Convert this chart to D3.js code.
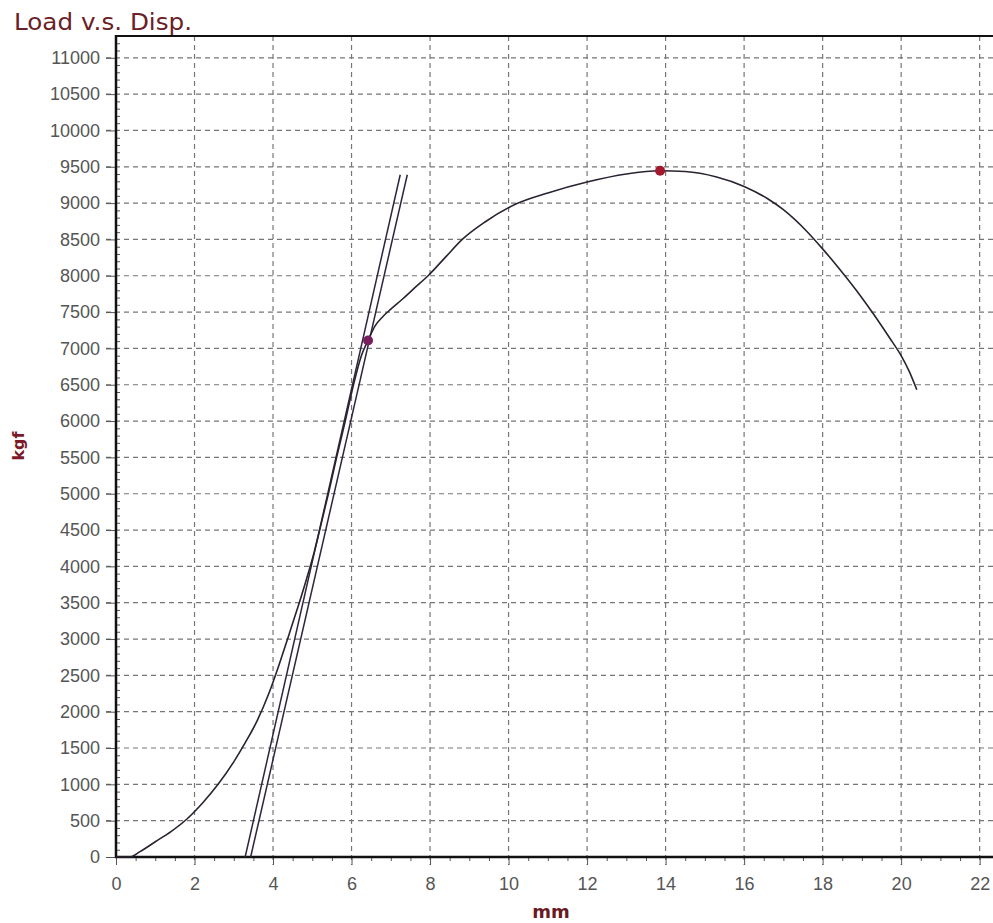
<!DOCTYPE html>
<html>
<head>
<meta charset="utf-8">
<script src="https://cdn.jsdelivr.net/npm/d3@7"></script>
<style>
  html, body { margin: 0; padding: 0; background: #ffffff; }
  svg { display: block; }
</style>
</head>
<body>
<svg id="chart" width="993" height="923"></svg>
<script>
// ---- data ----
const title = "Load v.s. Disp.";
const xLabel = "mm";
const yLabel = "kgf";

const xTicks = [0, 2, 4, 6, 8, 10, 12, 14, 16, 18, 20, 22];
const yTicks = [0, 500, 1000, 1500, 2000, 2500, 3000, 3500, 4000, 4500, 5000, 5500,
                6000, 6500, 7000, 7500, 8000, 8500, 9000, 9500, 10000, 10500, 11000];

// load vs displacement curve
const dispMM = [0, 0.35, 0.6, 1.0, 1.4, 1.8, 2.2, 2.6, 3.0, 3.3, 3.6, 3.9, 4.15, 4.4, 4.64,
                4.85, 5.05, 5.25, 5.41, 5.62, 5.84, 6.05, 6.25, 6.42, 6.6, 6.8, 7.0, 7.3, 7.6,
                7.95, 8.4, 8.82, 9.4, 10.2, 11.0, 12.0, 13.0, 13.86, 14.5, 15.3, 16.0, 16.6,
                17.0, 17.6, 18.0, 18.45, 18.9, 19.3, 19.7, 20.0, 20.2, 20.4];
const loadKgf = [0, 0, 70, 210, 350, 520, 740, 1000, 1310, 1580, 1880, 2260, 2640, 3050, 3450,
                 3820, 4200, 4640, 5000, 5500, 6000, 6500, 6900, 7110, 7310, 7440, 7540, 7680, 7830,
                 8000, 8260, 8500, 8740, 8990, 9140, 9290, 9400, 9445, 9435, 9360, 9230, 9060,
                 8910, 8610, 8370, 8080, 7770, 7470, 7150, 6900, 6690, 6430];

// elastic (tangent) line and offset line
const tangentX = [3.29, 7.24];
const tangentY = [0, 9390];
const offsetX = [3.43, 7.42];
const offsetY = [0, 9390];

// marked points: yield, maximum
const markX = [6.42, 13.86];
const markY = [7110, 9445];
const markColor = ["#7a1f5e", "#a3182c"];

// ---- layout ----
const svg = d3.select("#chart");
const mLeft = 116, mRight = 993, mTop = 36, mBottom = 857;

const x = d3.scaleLinear().domain([0, 22.34]).range([mLeft, mRight]);
const y = d3.scaleLinear().domain([0, 11300]).range([mBottom, mTop]);

const xMinor = d3.range(0, 22.01, 0.5).filter(v => Math.abs(v % 2) > 1e-6);
const yMinor = d3.range(0, 11301, 100).filter(v => v % 500 !== 0);

// gridlines
const grid = svg.append("g");
grid.selectAll("line.h").data(yTicks.filter(v => v > 0)).join("line")
  .attr("x1", x(0) - 10).attr("x2", mRight)
  .attr("y1", d => y(d)).attr("y2", d => y(d))
  .attr("stroke", "#767676").attr("stroke-width", 1.2)
  .attr("stroke-dasharray", "5,4");
grid.selectAll("line.v").data(xTicks.filter(v => v > 0)).join("line")
  .attr("y1", mTop).attr("y2", y(0) + 8)
  .attr("x1", d => x(d)).attr("x2", d => x(d))
  .attr("stroke", "#767676").attr("stroke-width", 1.2)
  .attr("stroke-dasharray", "5,4");

// axes
const fontTicks = "'Liberation Sans', Arial, sans-serif";

const yAxis = svg.append("g").attr("transform", `translate(${mLeft},0)`)
  .call(d3.axisLeft(y).tickValues(yTicks).tickSize(10).tickPadding(6).tickFormat(d3.format("d")));
const yMinorAxis = svg.append("g").attr("transform", `translate(${mLeft},0)`)
  .call(d3.axisLeft(y).tickValues(yMinor).tickSize(-4).tickFormat(""));
const xAxis = svg.append("g").attr("transform", `translate(0,${mBottom})`)
  .call(d3.axisBottom(x).tickValues(xTicks).tickSize(8).tickPadding(12).tickFormat(d3.format("d")));
const xMinorAxis = svg.append("g").attr("transform", `translate(0,${mBottom})`)
  .call(d3.axisBottom(x).tickValues(xMinor).tickSize(4).tickFormat(""));

[yAxis, xAxis, yMinorAxis, xMinorAxis].forEach(g => {
  g.select(".domain").remove();
  g.selectAll(".tick line").attr("stroke", "#555").attr("stroke-width", 1);
  g.selectAll(".tick text").attr("fill", "#555").style("font-family", fontTicks).style("font-size", "18px");
});

// frame
svg.append("line").attr("x1", mLeft).attr("x2", mLeft).attr("y1", mTop - 1).attr("y2", mBottom + 1)
  .attr("stroke", "#111").attr("stroke-width", 2.5);
svg.append("line").attr("x1", mLeft - 1).attr("x2", mRight).attr("y1", mBottom).attr("y2", mBottom)
  .attr("stroke", "#111").attr("stroke-width", 2.5);
svg.append("line").attr("x1", mLeft).attr("x2", mRight).attr("y1", mTop).attr("y2", mTop)
  .attr("stroke", "#111").attr("stroke-width", 2);

// straight lines
const lineGen = d3.line().x(d => x(d[0])).y(d => y(d[1]));
[[tangentX, tangentY], [offsetX, offsetY]].forEach(([xs, ys]) => {
  svg.append("path").datum(xs.map((v, i) => [v, ys[i]]))
    .attr("d", lineGen).attr("fill", "none")
    .attr("stroke", "#2e2440").attr("stroke-width", 1.5);
});

// curve
svg.append("path").datum(dispMM.map((v, i) => [v, loadKgf[i]]))
  .attr("d", d3.line().x(d => x(d[0])).y(d => y(d[1])).curve(d3.curveMonotoneX))
  .attr("fill", "none").attr("stroke", "#2a2230").attr("stroke-width", 1.6);

// marked points
svg.selectAll("circle.mark").data(markX.map((v, i) => ({ x: v, y: markY[i], c: markColor[i] })))
  .join("circle")
  .attr("cx", d => x(d.x)).attr("cy", d => y(d.y)).attr("r", 5)
  .attr("fill", d => d.c);

// texts
svg.append("text").attr("x", 14).attr("y", 30).text(title)
  .attr("fill", "#6a2026").style("font-family", "'DejaVu Sans', sans-serif").style("font-size", "23px")
  .attr("textLength", 178).attr("lengthAdjust", "spacingAndGlyphs");

svg.append("text").attr("transform", `translate(24,446) rotate(-90)`)
  .attr("text-anchor", "middle").text(yLabel)
  .attr("fill", "#7c1a2a").style("font-family", "'DejaVu Sans', sans-serif")
  .style("font-size", "16px").style("font-weight", "bold");

svg.append("text").attr("x", 551).attr("y", 918)
  .attr("text-anchor", "middle").text(xLabel)
  .attr("fill", "#6a1a22").style("font-family", "'DejaVu Sans', sans-serif")
  .style("font-size", "18px").style("font-weight", "bold");
</script>
</body>
</html>
